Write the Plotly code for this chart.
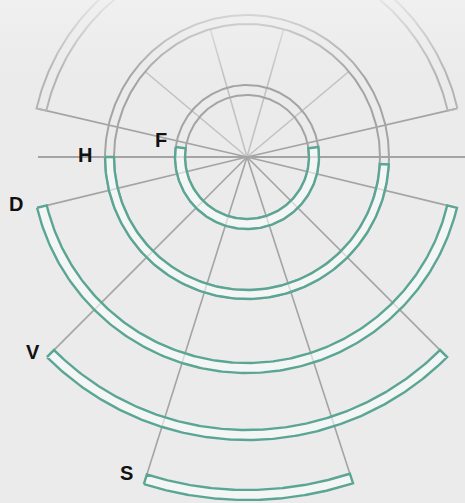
import numpy as np
import plotly.graph_objects as go

# ---- data ----
ring_labels = ["F", "H", "D", "V", "S"]
ring_inner = [62, 133, 206, 273, 333]
ring_outer = [72, 142, 216, 283, 343]
teal_start = [172, 180, 193.6, 225, 252.5]   # degrees, counter-clockwise
teal_end = [368, 357, 346.4, 315, 288]
grey_full = [True, True, False, False, False]
grey_start = [None, None, 13, None, None]
grey_end = [None, None, 167, None, None]

spoke_angles = [13, 167, 193.6, 346.4, 225, 315, 252.5, 288]
spoke_lengths = [214, 214, 211, 211, 278, 278, 338, 338]
faint_spoke_angles = [40, 74, 106, 140]
faint_spoke_length = 133
horizon_left, horizon_right = 209, 240

label_dx = [-7, -11, -12, -5, -9]
label_dy = [7, 2, 4, 5, 11]

TEAL = "#5aa593"
GREY = "#a4a4a4"
BG = "#ebebeb"


def arc(r, a0, a1, n=200):
    t = np.radians(np.linspace(a0, a1, n))
    return r * np.cos(t), r * np.sin(t)


fig = go.Figure()

# spokes
for a in faint_spoke_angles:
    t = np.radians(a)
    fig.add_trace(go.Scatter(x=[0, faint_spoke_length * np.cos(t)],
                             y=[0, faint_spoke_length * np.sin(t)], mode="lines",
                             line=dict(color="#c2c2c2", width=1.6), hoverinfo="skip"))
fig.add_trace(go.Scatter(x=[-horizon_left, horizon_right], y=[0, 0], mode="lines",
                         line=dict(color=GREY, width=2), hoverinfo="skip"))
for a, L in zip(spoke_angles, spoke_lengths):
    t = np.radians(a)
    fig.add_trace(go.Scatter(x=[0, L * np.cos(t)], y=[0, L * np.sin(t)], mode="lines",
                             line=dict(color=GREY, width=1.6), hoverinfo="skip"))

# grey rings
for i in range(len(ring_labels)):
    if grey_full[i]:
        for r in (ring_inner[i], ring_outer[i]):
            x, y = arc(r, 0, 360, 400)
            fig.add_trace(go.Scatter(x=x, y=y, mode="lines",
                                     line=dict(color=GREY, width=2), hoverinfo="skip"))
    elif grey_start[i] is not None:
        xo, yo = arc(ring_outer[i], grey_start[i], grey_end[i])
        xi, yi = arc(ring_inner[i], grey_end[i], grey_start[i])
        fig.add_trace(go.Scatter(x=np.r_[xo, xi, xo[:1]], y=np.r_[yo, yi, yo[:1]],
                                 mode="lines", line=dict(color="#b4b4b4", width=2),
                                 hoverinfo="skip"))

# teal rings
for i in range(len(ring_labels)):
    xo, yo = arc(ring_outer[i], teal_start[i], teal_end[i])
    xi, yi = arc(ring_inner[i], teal_end[i], teal_start[i])
    fig.add_trace(go.Scatter(x=np.r_[xo, xi, xo[:1]], y=np.r_[yo, yi, yo[:1]],
                             mode="lines", fill="toself",
                             fillcolor="rgba(250,252,252,0.6)",
                             line=dict(color=TEAL, width=2.4), hoverinfo="skip"))

# soft fade at the top of the picture
fig.add_trace(go.Scatter(x=[-260, 230, 230, -260, -260], y=[80, 80, 160, 160, 80],
                         mode="none", fill="toself", hoverinfo="skip",
                         fillgradient=dict(type="vertical",
                                           colorscale=[[0, "rgba(240,240,240,0)"],
                                                       [1, "rgba(242,242,242,0.8)"]])))

# labels
for i, lab in enumerate(ring_labels):
    t = np.radians(teal_start[i])
    fig.add_annotation(x=ring_outer[i] * np.cos(t), y=ring_outer[i] * np.sin(t),
                       text=f"<b>{lab}</b>", showarrow=False, xanchor="right",
                       yanchor="middle", xshift=label_dx[i], yshift=label_dy[i],
                       font=dict(family="Liberation Sans", size=20, color="#111111"))

fig.update_layout(
    width=465, height=503, margin=dict(l=0, r=0, t=0, b=0),
    paper_bgcolor=BG, plot_bgcolor=BG, showlegend=False,
    xaxis=dict(range=[-247, 218], visible=False, fixedrange=True),
    yaxis=dict(range=[-346, 157], visible=False, fixedrange=True),
)
fig.write_html("out.html", config={"displayModeBar": False},
               post_script="document.body.style.margin='0';document.body.style.background='%s';" % BG)
